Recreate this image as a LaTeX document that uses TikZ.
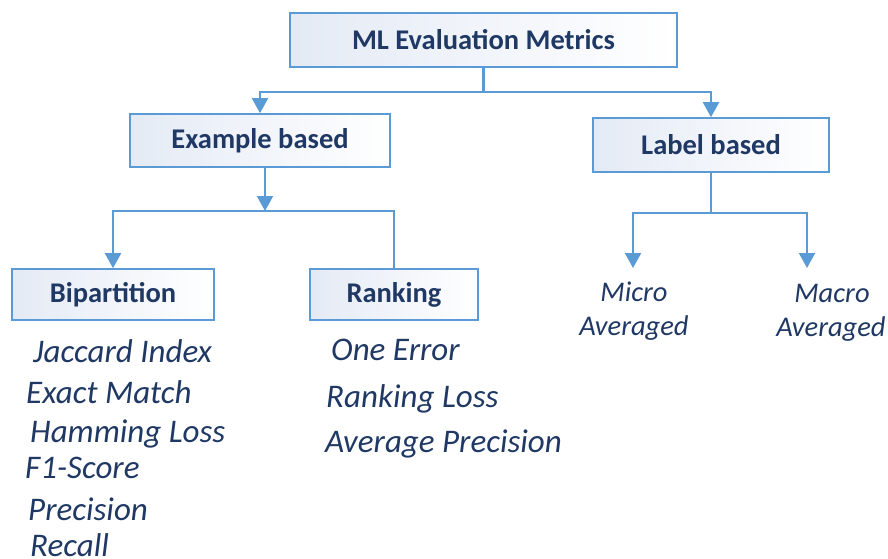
\documentclass[tikz,border=0pt]{standalone}
\usepackage{fontspec}
\setmainfont{Carlito}
\usepackage{xcolor}
\usetikzlibrary{arrows.meta}
\definecolor{navy}{HTML}{1F3864}
\definecolor{lineblue}{HTML}{5B9BD5}
\definecolor{fillblue}{HTML}{E4EAF5}

\begin{document}
\begin{tikzpicture}[x=1pt,y=-1pt,
    box/.style={draw=lineblue,line width=1.6pt,left color=fillblue,right color=white,
                text=navy,font=\fontsize{28.5}{32}\selectfont\bfseries,inner sep=0pt},
    conn/.style={draw=lineblue,line width=2.2pt},
    tip/.style={-{Triangle[width=16pt,length=15pt]}},
    item/.style={anchor=base west,text=navy,inner sep=0pt,font=\fontsize{33}{38}\selectfont\itshape},
    avg/.style={item,anchor=base,font=\fontsize{28.5}{32}\selectfont\itshape}]
    \useasboundingbox (0,0) rectangle (888,559);

    % boxes
    \node (top) at (483.5,40) [box,minimum width=387pt,minimum height=54pt] {ML Evaluation Metrics};
    \node (ex) at (260,140.5) [box,minimum width=260pt,minimum height=53pt] {Example based};
    \node (lb) at (711,145) [box,minimum width=236pt,minimum height=54pt] {Label based};
    \node (bip) at (113,294.5) [box,minimum width=202pt,minimum height=51pt] {Bipartition};
    \node (rk) at (394,294.5) [box,minimum width=168pt,minimum height=51pt] {Ranking};

    % joints
    \coordinate (j0) at (483.5,92);
    \coordinate (exout) at (265,167);
    \coordinate (j1) at (265,211);
    \coordinate (j2) at (711,213);
    \coordinate (mi) at (633,268);
    \coordinate (ma) at (807,268);

    \draw[conn] (top.south) -- (j0);
    \draw[conn,tip] (j0) -| (ex.north);
    \draw[conn,tip] (j0) -| (lb.north);
    \draw[conn,tip] (exout) -- (j1);
    \draw[conn,tip] (j1) -| (bip.north);
    \draw[conn] (j1) -| (rk.north);
    \draw[conn] (lb.south) -- (j2);
    \draw[conn,tip] (j2) -| (mi);
    \draw[conn,tip] (j2) -| (ma);

    % label based
    \node (mi1) at (634,301) [avg] {Micro};
    \node (mi2) at (634,335) [avg] {Averaged};
    \node (ma1) at (832,302) [avg] {Macro};
    \node (ma2) at (831,336) [avg] {Averaged};

    % bipartition
    \node (b1) at (33,362) [item] {Jaccard Index};
    \node (b2) at (26,403) [item] {Exact Match};
    \node (b3) at (30,442) [item] {Hamming Loss};
    \node (b4) at (25,478) [item] {F1-Score};
    \node (b5) at (28,520) [item] {Precision};
    \node (b6) at (30,556) [item] {Recall};

    % ranking
    \node (r1) at (331,360) [item] {One Error};
    \node (r2) at (326,407) [item] {Ranking Loss};
    \node (r3) at (325,452) [item] {Average Precision};
\end{tikzpicture}
\end{document}
